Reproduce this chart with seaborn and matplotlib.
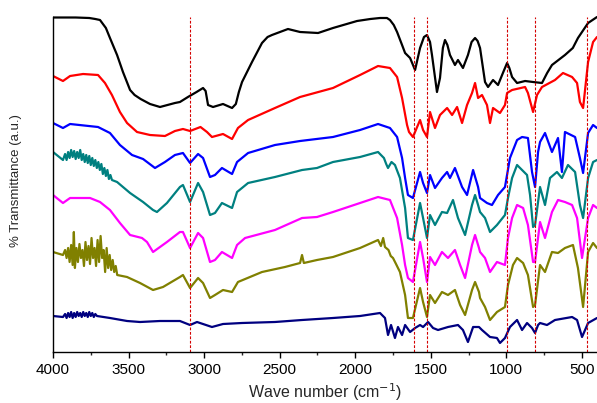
import pandas as pd
import numpy as np
import matplotlib
matplotlib.use('Agg')
import matplotlib.pyplot as plt
import seaborn as sns

# --- spectra (wavenumber, offset level; bigger = lower on plot) ---
black = [(4000, 17.5), (3850, 17.5), (3760, 18), (3720, 19), (3689, 20), (3650, 28), (3623, 38),
         (3576, 55), (3537, 72), (3490, 90), (3460, 95), (3420, 99), (3358, 104), (3292, 107),
         (3193, 103), (3160, 102), (3107, 97), (3050, 92), (3007, 88), (2990, 91), (2974, 105),
         (2941, 107), (2875, 104), (2815, 108), (2790, 104), (2770, 92), (2749, 82), (2683, 62),
         (2617, 43), (2580, 37), (2551, 35), (2445, 29), (2365, 32), (2246, 33), (2147, 28),
         (1988, 21), (1900, 19), (1836, 18), (1790, 18), (1770, 20), (1745, 25), (1723, 32),
         (1690, 45), (1670, 53), (1637, 58), (1604, 70), (1571, 48), (1545, 37), (1525, 35),
         (1505, 42), (1492, 55), (1459, 92), (1439, 78), (1420, 48), (1406, 40), (1390, 45),
         (1373, 55), (1340, 65), (1320, 60), (1287, 68), (1254, 55), (1230, 42), (1207, 38),
         (1190, 41), (1174, 48), (1141, 82), (1121, 87), (1088, 80), (1055, 85), (1020, 72),
         (995, 63), (980, 68), (962, 77), (929, 83), (876, 81), (823, 82), (764, 83), (730, 73),
         (698, 65), (612, 55), (560, 48), (526, 38), (459, 23), (400, 17)]

red = [(4000, 76), (3934, 81), (3887, 76), (3801, 74), (3702, 75), (3656, 83), (3610, 95),
       (3557, 112), (3510, 123), (3444, 132), (3358, 135), (3259, 136), (3193, 131), (3140, 129),
       (3093, 131), (3024, 127), (2981, 132), (2948, 137), (2875, 134), (2815, 139), (2776, 128),
       (2709, 120), (2531, 108), (2365, 97), (2147, 88), (1968, 75), (1849, 66), (1770, 68),
       (1723, 77), (1690, 98), (1657, 125), (1644, 132), (1618, 137), (1571, 120), (1551, 130),
       (1525, 137), (1505, 112), (1472, 128), (1439, 115), (1392, 108), (1359, 115), (1326, 107),
       (1293, 123), (1260, 105), (1227, 93), (1207, 83), (1187, 98), (1161, 95), (1128, 105),
       (1108, 123), (1088, 108), (1042, 113), (1009, 105), (995, 93), (962, 90), (876, 87),
       (857, 93), (823, 112), (797, 95), (764, 87), (678, 80), (625, 73), (565, 77), (532, 83),
       (513, 102), (492, 108), (459, 62), (426, 42), (400, 37)]

blue = [(4000, 123), (3934, 128), (3887, 124), (3702, 127), (3623, 133), (3557, 145), (3477, 155),
        (3404, 159), (3325, 168), (3259, 162), (3193, 155), (3140, 153), (3093, 163), (3040, 154),
        (3007, 158), (2961, 177), (2928, 175), (2882, 168), (2815, 174), (2782, 162), (2709, 153),
        (2531, 145), (2365, 141), (2147, 137), (1968, 130), (1849, 124), (1770, 128), (1723, 137),
        (1690, 158), (1670, 178), (1651, 195), (1618, 198), (1571, 172), (1551, 183), (1525, 193),
        (1505, 175), (1472, 188), (1426, 178), (1392, 172), (1373, 178), (1340, 168), (1293, 187),
        (1260, 195), (1220, 170), (1187, 187), (1174, 198), (1128, 203), (1095, 205), (1055, 195),
        (1009, 187), (976, 158), (929, 140), (896, 137), (857, 138), (830, 172), (810, 187),
        (790, 152), (777, 142), (744, 133), (698, 152), (658, 138), (632, 172), (612, 132),
        (545, 137), (513, 158), (492, 173), (459, 133), (426, 125), (400, 128)]

teal = [(4000, 152), (3934, 160), (3920, 154), (3910, 160), (3900, 152), (3890, 158), (3880, 150),
        (3870, 157), (3860, 151), (3850, 159), (3840, 152), (3830, 158), (3820, 150), (3810, 160),
        (3800, 154), (3790, 162), (3780, 155), (3770, 163), (3760, 156), (3750, 165), (3740, 158),
        (3730, 166), (3720, 160), (3710, 168), (3700, 162), (3690, 170), (3680, 164), (3670, 174),
        (3660, 168), (3650, 176), (3640, 170), (3630, 179), (3620, 175), (3610, 180), (3576, 182),
        (3490, 193), (3404, 202), (3338, 210), (3312, 212), (3246, 203), (3160, 187), (3140, 185),
        (3093, 202), (3040, 183), (3007, 192), (2961, 215), (2928, 213), (2882, 203), (2815, 208),
        (2782, 192), (2709, 183), (2531, 177), (2352, 170), (2253, 168), (2147, 162), (1968, 157),
        (1849, 152), (1810, 158), (1795, 164), (1783, 168), (1760, 162), (1737, 165), (1704, 178),
        (1670, 208), (1651, 238), (1618, 240), (1571, 203), (1551, 218), (1525, 238), (1505, 215),
        (1472, 225), (1426, 212), (1392, 213), (1353, 200), (1320, 218), (1273, 235), (1227, 205),
        (1207, 195), (1187, 205), (1174, 212), (1141, 218), (1108, 232), (1062, 225), (1009, 215),
        (989, 198), (962, 178), (929, 165), (896, 170), (863, 175), (843, 195), (823, 227),
        (810, 225), (777, 187), (744, 205), (711, 178), (665, 172), (632, 178), (592, 165),
        (545, 172), (513, 205), (492, 218), (459, 178), (426, 162), (400, 160)]

magenta = [(4000, 195), (3934, 203), (3887, 198), (3755, 198), (3689, 202), (3623, 210), (3557, 223),
           (3490, 235), (3411, 238), (3378, 242), (3338, 252), (3246, 242), (3160, 232), (3140, 232),
           (3093, 248), (3040, 233), (3007, 238), (2961, 262), (2928, 260), (2882, 252), (2815, 258),
           (2782, 245), (2729, 238), (2531, 230), (2352, 218), (2253, 217), (2147, 212), (1968, 203),
           (1849, 197), (1770, 200), (1723, 218), (1690, 245), (1670, 265), (1651, 278), (1618, 282),
           (1571, 242), (1551, 258), (1525, 282), (1505, 257), (1472, 265), (1426, 252), (1386, 258),
           (1340, 250), (1306, 265), (1273, 278), (1227, 245), (1207, 235), (1181, 248), (1174, 252),
           (1141, 258), (1108, 272), (1062, 262), (1009, 265), (989, 238), (962, 218), (929, 205),
           (889, 208), (857, 225), (823, 262), (810, 262), (777, 222), (744, 238), (698, 212),
           (658, 200), (612, 202), (565, 205), (532, 218), (499, 258), (459, 218), (426, 205),
           (400, 208)]

olive = [(4000, 252), (3934, 255), (3920, 250), (3910, 258), (3900, 248), (3890, 262), (3880, 245),
         (3870, 265), (3862, 232), (3855, 268), (3845, 248), (3835, 262), (3825, 244), (3815, 258),
         (3805, 250), (3795, 266), (3785, 242), (3775, 260), (3765, 246), (3755, 264), (3745, 238),
         (3735, 258), (3725, 248), (3715, 266), (3705, 240), (3695, 262), (3685, 236), (3675, 258),
         (3665, 250), (3655, 272), (3645, 248), (3635, 268), (3625, 255), (3615, 270), (3605, 260),
         (3595, 272), (3585, 266), (3575, 275), (3510, 277), (3424, 283), (3338, 290), (3272, 287),
         (3160, 277), (3140, 275), (3093, 288), (3040, 278), (3007, 283), (2961, 298), (2928, 295),
         (2875, 290), (2815, 292), (2776, 282), (2617, 272), (2465, 267), (2365, 263), (2352, 255),
         (2340, 263), (2253, 260), (2147, 257), (1968, 248), (1849, 240), (1830, 246), (1815, 238),
         (1803, 247), (1780, 250), (1765, 256), (1750, 258), (1730, 264), (1704, 272), (1670, 295),
         (1651, 318), (1618, 318), (1571, 288), (1551, 302), (1525, 317), (1505, 295), (1472, 303),
         (1426, 292), (1386, 295), (1340, 290), (1306, 305), (1273, 315), (1227, 290), (1207, 282),
         (1181, 292), (1174, 298), (1141, 307), (1108, 320), (1062, 312), (1009, 307), (989, 285),
         (956, 265), (929, 258), (889, 263), (857, 275), (823, 307), (810, 305), (777, 265),
         (744, 272), (698, 252), (658, 253), (612, 248), (559, 245), (526, 268), (492, 307),
         (459, 252), (426, 243), (400, 248)]

navy = [(4000, 316), (3934, 317), (3920, 314), (3910, 318), (3900, 313), (3890, 317), (3880, 312),
        (3870, 318), (3860, 313), (3850, 317), (3840, 312), (3830, 316), (3820, 313), (3810, 317),
        (3800, 312), (3790, 316), (3780, 313), (3770, 317), (3760, 312), (3750, 316), (3740, 313),
        (3730, 317), (3720, 314), (3709, 316), (3623, 318), (3510, 321), (3424, 322), (3292, 321),
        (3160, 321), (3093, 325), (3047, 322), (2948, 327), (2875, 324), (2749, 323), (2531, 322),
        (2352, 320), (2147, 318), (1968, 316), (1836, 313), (1803, 318), (1783, 335), (1763, 325),
        (1737, 338), (1717, 327), (1690, 335), (1670, 325), (1637, 332), (1604, 328), (1571, 325),
        (1551, 327), (1518, 322), (1485, 328), (1452, 330), (1386, 327), (1320, 325), (1287, 330),
        (1254, 342), (1220, 327), (1181, 327), (1161, 330), (1108, 337), (1062, 338), (1042, 343),
        (1009, 338), (976, 327), (929, 320), (896, 330), (863, 323), (830, 328), (810, 333),
        (790, 325), (777, 323), (731, 325), (678, 320), (565, 317), (532, 320), (499, 337),
        (459, 323), (400, 318)]

# marker bands (cm-1)
bands = [3093, 1611, 1525, 995, 808, 464]

spectra = {'black': black, 'red': red, 'blue': blue, 'teal': teal,
           'magenta': magenta, 'olive': olive, 'navy': navy}
colors = {'black': '#000000', 'red': '#ff0000', 'blue': '#0000ff', 'teal': '#008080',
          'magenta': '#ff00ff', 'olive': '#808000', 'navy': '#000080'}

rows = []
for name, pts in spectra.items():
    for wn, t in pts:
        rows.append((name, wn, t))
df = pd.DataFrame(rows, columns=['sample', 'wn', 'T'])

sns.set_style('ticks')
plt.rcParams['font.family'] = ['Liberation Sans', 'DejaVu Sans']

fig = plt.figure(figsize=(5.97, 4.03), dpi=100)
ax = fig.add_axes([53 / 597, 51 / 403, 544 / 597, 342 / 403])

sns.lineplot(data=df, x='wn', y='T', hue='sample', palette=colors, estimator=None,
             sort=False, lw=1.6, legend=False, ax=ax)

ax.vlines(bands, 352, 17, colors='#d40000', linestyles=(0, (2.5, 1.5)), lw=0.8)

ax.set_xlim(4000, 400)
ax.set_ylim(352, 10)
ax.set_xticks([4000, 3500, 3000, 2500, 2000, 1500, 1000, 500])
ax.set_xticks([3750, 3250, 2750, 2250, 1750, 1250, 750], minor=True)
ax.set_yticks([])
ax.tick_params(axis='x', which='major', length=4, width=1, labelsize=11, pad=4, colors='black')
ax.tick_params(axis='x', which='minor', length=2.5, width=1)
ax.set_xlabel('Wave number (cm$^{-1}$)', fontsize=11.5, labelpad=3)
ax.set_ylabel('% Transmittance (a.u.)', fontsize=9.5, labelpad=22)
for s in ['top', 'right']:
    ax.spines[s].set_visible(False)
for s in ['left', 'bottom']:
    ax.spines[s].set_color('black')
    ax.spines[s].set_linewidth(1)
ax.spines['left'].set_bounds(352, 17)

fig.savefig('out.png', dpi=100)
